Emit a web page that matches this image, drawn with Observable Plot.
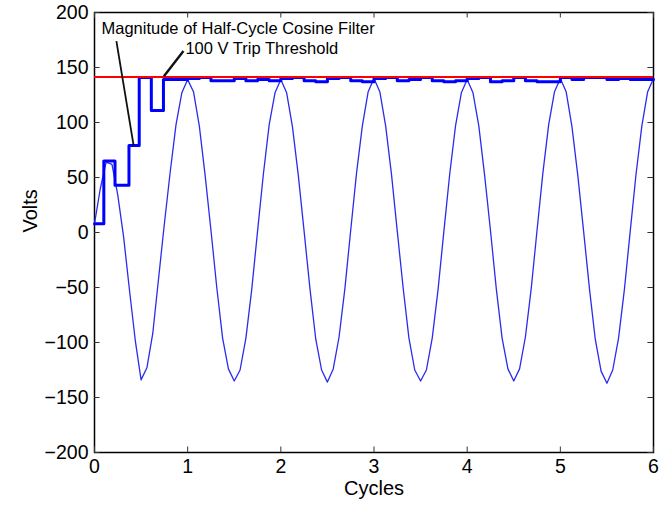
<!DOCTYPE html>
<html>
<head>
<meta charset="utf-8">
<script src="https://cdn.jsdelivr.net/npm/d3@7"></script>
<script src="https://cdn.jsdelivr.net/npm/@observablehq/plot@0.6"></script>
<style>
  html, body { margin: 0; padding: 0; background: #fff; }
</style>
</head>
<body>
<div id="chart"></div>
<script>
// ---- data ----
const xTicks = [0, 1, 2, 3, 4, 5, 6];
const yTicks = [-200, -150, -100, -50, 0, 50, 100, 150, 200];

const samplesPerCycle = 16;
// sampled voltage waveform, one value every 1/16 cycle from 0 to 6 cycles
const waveVolts = [
  8, 40, 64, 62, 34, -4, -52, -98, -134, -123, -92, -42, 8, 55, 98, 127,
  139, 128, 97, 52, 2, -50, -96, -124, -135, -125, -96, -52, 1, 53, 98, 127,
  139, 127, 96, 52, 1, -51, -97, -125, -136, -124, -95, -51, 2, 54, 97, 128,
  140, 128, 97, 53, 1, -50, -96, -125, -135, -125, -96, -52, 1, 53, 97, 127,
  139, 127, 97, 52, 2, -51, -96, -124, -135, -124, -95, -51, 2, 54, 98, 128,
  140, 128, 96, 52, 1, -51, -97, -126, -137, -125, -96, -52, 1, 53, 97, 128,
  140
];

// magnitude of half-cycle cosine filter (step output)
const magCycles = [
  0, 0.1, 0.22, 0.37, 0.48, 0.61, 0.74, 0.875,
  1.0, 1.125, 1.25, 1.375, 1.5, 1.625, 1.75, 1.875,
  2.0, 2.125, 2.25, 2.375, 2.5, 2.625, 2.75, 2.875,
  3.0, 3.125, 3.25, 3.375, 3.5, 3.625, 3.75, 3.875,
  4.0, 4.125, 4.25, 4.375, 4.5, 4.625, 4.75, 4.875,
  5.0, 5.125, 5.25, 5.375, 5.5, 5.625, 5.75, 5.875, 6.0
];
const magVolts = [
  8, 65, 43, 79, 141, 111, 139, 139,
  140, 141, 138, 138, 140, 138, 139, 138,
  140, 141, 138, 137, 140, 141, 138, 137,
  140, 141, 138, 139, 141, 138, 137, 138,
  140, 141, 137, 138, 141, 138, 137, 137,
  141, 139, 141, 141, 139, 140, 139, 139, 139
];

const tripThreshold = 141.4;

const labels = [
  {text: "Magnitude of Half-Cycle Cosine Filter", x: 0.075, y: 185},
  {text: "100 V Trip Threshold", x: 0.976, y: 167}
];
const pointers = [
  {x1: 0.235, y1: 174, x2: 0.42, y2: 79, w: 1.8},
  {x1: 0.955, y1: 165, x2: 0.745, y2: 142, w: 2.4}
];

// ---- chart ----
const font = "'Liberation Sans', Arial, sans-serif";
const chart = Plot.plot({
  width: 668,
  height: 508,
  marginLeft: 94,
  marginRight: 15,
  marginTop: 12,
  marginBottom: 56,
  style: {background: "#fff", fontFamily: font, fontSize: "19.5px", color: "#000"},
  x: {domain: [0, 6]},
  y: {domain: [-200, 200]},
  marks: [
    Plot.frame({stroke: "#000", strokeWidth: 1.5}),
    // inward ticks on all four sides
    Plot.ruleX(xTicks, {x: d => d, y1: -200, y2: -195, stroke: "#333", strokeWidth: 1}),
    Plot.ruleX(xTicks, {x: d => d, y1: 195, y2: 200, stroke: "#333", strokeWidth: 1}),
    Plot.ruleY(yTicks, {y: d => d, x1: 0, x2: 0.06, stroke: "#333", strokeWidth: 1}),
    Plot.ruleY(yTicks, {y: d => d, x1: 5.94, x2: 6, stroke: "#333", strokeWidth: 1}),
    Plot.axisX(xTicks, {tickSize: 0, tickPadding: 7, label: null, fontSize: 19.5}),
    Plot.axisY(yTicks, {tickSize: 0, tickPadding: 6, label: null, fontSize: 19.5}),
    Plot.text(["Volts"], {frameAnchor: "left", dx: -64, rotate: -90, fontSize: 20, fill: "#000"}),
    Plot.text(["Cycles"], {frameAnchor: "bottom", dy: 42, fontSize: 20, fill: "#000"}),
    // waveform
    Plot.line(waveVolts, {x: (d, i) => i / samplesPerCycle, y: d => d, stroke: "#2b2bee", strokeWidth: 1.3}),
    // filter magnitude
    Plot.line(magVolts, {x: (d, i) => magCycles[i], y: d => d, curve: "step-after", stroke: "#0000ff", strokeWidth: 3}),
    // threshold
    Plot.ruleY([tripThreshold], {stroke: "#ff0000", strokeWidth: 2}),
    // annotations
    Plot.link(pointers, {x1: "x1", y1: "y1", x2: "x2", y2: "y2", stroke: "#111", strokeWidth: d => d.w}),
    Plot.text(labels, {x: "x", y: "y", text: "text", textAnchor: "start", fontSize: 16.5, fill: "#000"})
  ]
});
document.getElementById("chart").appendChild(chart);
</script>
</body>
</html>
